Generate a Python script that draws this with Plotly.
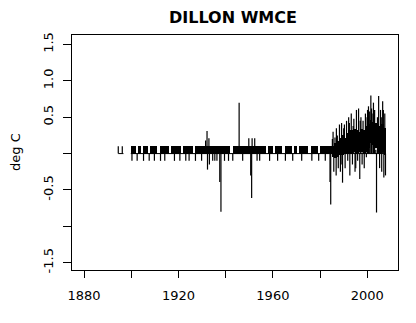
import plotly.graph_objects as go

# ---- data ----
years = list(range(1900, 2008))
band_hi = [
    0.1, 0.1, 0.0, 0.1, 0.0, 0.1, 0.1, 0.0, 0.1, 0.1,   # 1900-1909
    0.1, 0.0, 0.1, 0.1, 0.1, 0.1, 0.0, 0.1, 0.1, 0.1,   # 1910-1919
    0.1, 0.0, 0.1, 0.1, 0.1, 0.1, 0.0, 0.1, 0.1, 0.1,   # 1920-1929
    0.1, 0.1, 0.1, 0.1, 0.1, 0.1, 0.1, 0.1, 0.1, 0.1,   # 1930-1939
    0.1, 0.1, 0.0, 0.1, 0.1, 0.1, 0.1, 0.1, 0.1, 0.1,   # 1940-1949
    0.1, 0.1, 0.1, 0.1, 0.1, 0.1, 0.1, 0.0, 0.1, 0.1,   # 1950-1959
    0.0, 0.1, 0.1, 0.1, 0.0, 0.1, 0.1, 0.1, 0.0, 0.1,   # 1960-1969
    0.0, 0.1, 0.1, 0.1, 0.1, 0.0, 0.1, 0.1, 0.1, 0.0,   # 1970-1979
    0.1, 0.1, 0.1, 0.1, 0.1,                             # 1980-1984
    0.10, 0.14, 0.18, 0.22, 0.25, 0.22, 0.28, 0.32, 0.32, 0.34,  # 1985-1994
    0.32, 0.30, 0.34, 0.32, 0.38, 0.40, 0.46, 0.44, 0.42, 0.40,  # 1995-2004
    0.38, 0.40, 0.35,                                            # 2005-2007
]
band_lo = [0.0] * 85 + [
    -0.05, -0.06, -0.05, -0.02, -0.02, 0.00, 0.00, 0.00, 0.00, 0.02,
    0.00, 0.02, 0.02, 0.00, 0.02, 0.08, 0.15, 0.12, 0.08, 0.02,
    0.00, 0.02, -0.02,
]

spike_years = [
    1894.5, 1896.2,
    1900.3, 1902.5, 1905.2, 1907.6, 1909.8, 1912.4, 1914.2, 1918.3, 1920.6,
    1923.1, 1924.5, 1927.2, 1929.8, 1934.5, 1935.4, 1936.3, 1939.5, 1941.2,
    1943.0, 1947.2, 1953.3, 1954.4, 1958.6, 1962.0, 1965.3, 1968.4, 1972.2,
    1976.5, 1979.4, 1982.2,
    1931.5, 1932.1, 1932.3, 1932.9, 1933.1, 1937.5, 1938.0, 1945.7,
    1949.8, 1950.6, 1951.0, 1951.2, 1952.3, 1984.2, 1984.5,
    1985.2, 1985.8, 1986.3, 1986.8, 1987.3, 1987.7, 1988.2, 1988.6, 1989.1,
    1989.5, 1990.0, 1990.6, 1991.2, 1991.7, 1992.1, 1992.6, 1993.2, 1993.7,
    1994.3, 1994.8, 1995.4, 1995.9, 1996.3, 1996.8, 1997.3, 1997.8, 1998.2,
    1998.7, 1999.2, 1999.6, 2000.1, 2000.5, 2001.0, 2001.5, 2002.0, 2002.6,
    2003.1, 2003.6, 2003.9, 2004.3, 2004.8, 2005.2, 2005.6, 2006.1, 2006.5,
    2007.0, 2007.4, 2007.7,
    1985.5, 1986.9, 1988.9, 1990.3, 1992.4, 1994.0, 1995.1, 1997.0, 1999.9,
    2001.8, 2002.9, 2005.9, 2006.8,
]
spike_vals = [
    0.1, 0.1,
    -0.1, -0.1, -0.1, -0.1, -0.1, -0.1, -0.1, -0.1, -0.1,
    -0.1, -0.1, -0.1, -0.1, -0.1, -0.1, -0.1, -0.1, -0.1,
    -0.1, -0.1, -0.1, -0.1, -0.1, -0.1, -0.1, -0.1, -0.1,
    -0.1, -0.1, -0.1,
    0.18, 0.31, -0.22, 0.21, -0.15, -0.39, -0.80, 0.70,
    0.21, -0.30, -0.61, 0.21, 0.21, -0.39, -0.70,
    0.20, -0.25, 0.22, -0.30, 0.25, -0.20, 0.40, -0.25, 0.42,
    -0.40, 0.35, -0.20, 0.45, -0.10, 0.50, -0.30, 0.55, -0.15,
    0.48, -0.25, 0.60, -0.10, 0.62, -0.35, 0.50, -0.15, 0.45,
    -0.20, 0.55, -0.05, 0.60, 0.65, 0.58, 0.80, 0.55, 0.70,
    0.60, 0.05, -0.81, 0.50, 0.79, -0.20, 0.60, -0.25, 0.72,
    -0.33, 0.55, -0.30,
    0.30, 0.35, -0.15, 0.40, 0.42, 0.38, -0.20, 0.45, 0.50,
    0.62, 0.55, 0.50, 0.60,
]
record_start = [1894.5, 1899.8]
record_end = [1896.7, 2007.9]

y_ticks = [-1.5, -1.0, -0.5, 0.0, 0.5, 1.0, 1.5]
y_tick_text = ["-1.5", "", "-0.5", "", "0.5", "1.0", "1.5"]
x_ticks = [1880, 1900, 1920, 1940, 1960, 1980, 2000]
x_tick_text = ["1880", "", "1920", "", "1960", "", "2000"]

# ---- figure ----
fig = go.Figure()

fig.add_trace(go.Bar(
    x=[y + 0.5 for y in years],
    y=[h - l for h, l in zip(band_hi, band_lo)],
    base=band_lo,
    width=1.05,
    marker=dict(color="black", line=dict(width=0)),
    showlegend=False,
))

bx, by = [], []
for s, e in zip(record_start, record_end):
    bx += [s, e, None]
    by += [0, 0, None]
fig.add_trace(go.Scatter(x=bx, y=by, mode="lines",
                         line=dict(color="black", width=1), showlegend=False))

sx, sy = [], []
for yr, v in zip(spike_years, spike_vals):
    sx += [yr, yr, None]
    sy += [0, v, None]
fig.add_trace(go.Scatter(x=sx, y=sy, mode="lines",
                         line=dict(color="black", width=1.2), showlegend=False))

font_family = "DejaVu Sans, Verdana, sans-serif"
axis_font = dict(family=font_family, size=13, color="black")
fig.update_layout(
    width=416, height=323,
    margin=dict(l=72, r=18, t=35, b=53),
    paper_bgcolor="white", plot_bgcolor="white",
    barmode="overlay", bargap=0,
    title=dict(text="<b>DILLON WMCE</b>", x=233 / 416, xref="container",
               xanchor="center", y=1 - 17 / 323, yref="container",
               yanchor="middle",
               font=dict(family=font_family, size=16, color="black")),
    xaxis=dict(range=[1874.9, 2013.0], tickvals=x_ticks, ticktext=x_tick_text,
               ticks="outside", ticklen=7, tickwidth=1, tickcolor="black",
               ticklabelstandoff=6,
               showline=True, linecolor="black", linewidth=1, mirror=True,
               showgrid=False, zeroline=False, tickfont=axis_font),
    yaxis=dict(range=[-1.6, 1.63], tickvals=y_ticks, ticktext=y_tick_text,
               ticks="outside", ticklen=8, tickwidth=1, tickcolor="black",
               tickangle=-90, ticklabelstandoff=5,
               showline=True, linecolor="black", linewidth=1, mirror=True,
               showgrid=False, zeroline=False, tickfont=axis_font),
    annotations=[dict(text="deg C", textangle=-90, xref="paper", yref="paper",
                      x=(15.5 - 72) / 326, y=0.5, xanchor="center", yanchor="middle",
                      showarrow=False, font=axis_font)],
)

fig.write_html("out.html")
